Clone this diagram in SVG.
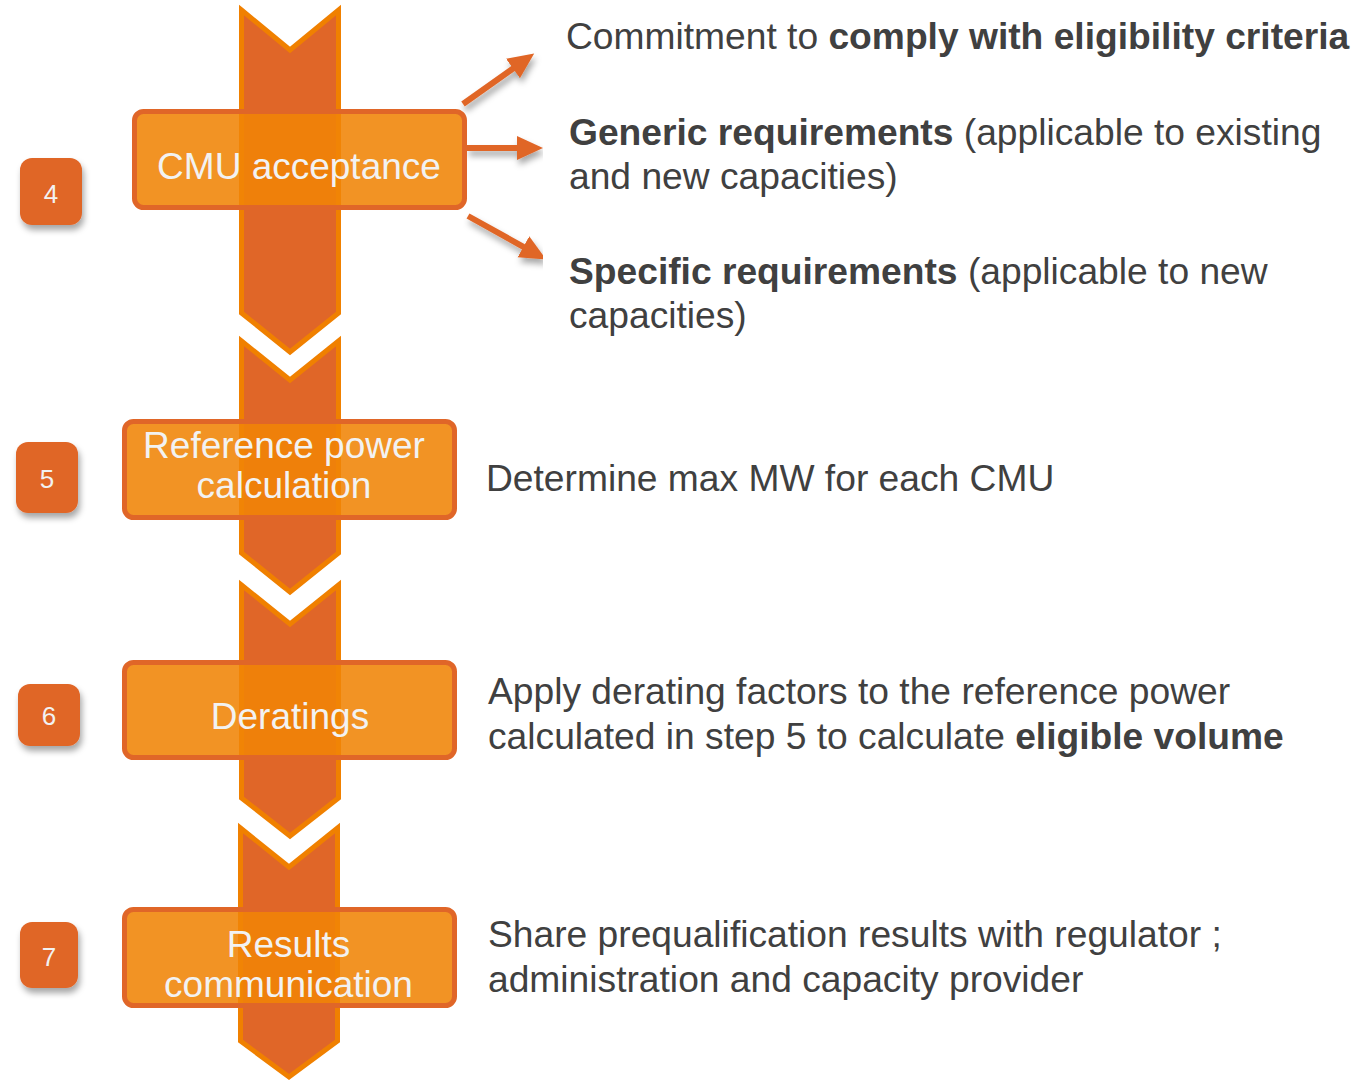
<svg xmlns="http://www.w3.org/2000/svg" width="1358" height="1081" viewBox="0 0 1358 1081">
<style>
.chev{fill:#E06628;stroke:#F08000;stroke-width:5;stroke-linejoin:miter}
.box{fill:#F08406;fill-opacity:0.88;stroke:#E06628;stroke-width:5}
.btxt{font-family:"Liberation Sans",Arial,sans-serif;font-size:37px;fill:#F2F2F2;text-anchor:middle}
.badge{fill:#E06628}
.ntxt{font-family:"Liberation Sans",Arial,sans-serif;font-size:26px;fill:#F2F2F2;text-anchor:middle}
.desc{font-family:"Liberation Sans",Arial,sans-serif;font-size:37.2px;fill:#404040}
.b{font-weight:bold}
.arr{stroke:#E06628;stroke-width:6;fill:none}
</style>
<defs>
<filter id="sh" x="-30%" y="-30%" width="160%" height="170%">
<feDropShadow dx="2" dy="5" stdDeviation="3" flood-color="#000" flood-opacity="0.35"/>
</filter>
<marker id="ah" markerUnits="userSpaceOnUse" markerWidth="28" markerHeight="26" refX="1" refY="12" orient="auto">
<path d="M0,0 L26,12 L0,24 Z" fill="#E06628"/>
</marker>
</defs>

<g id="chevrons">
<polygon class="chev" points="241.5,10 290,50 338.5,10 338.5,313 290,352 241.5,313"/>
<polygon class="chev" points="241.5,341 290,380 338.5,341 338.5,553 290,592 241.5,553"/>
<polygon class="chev" points="241.5,585 290,624 338.5,585 338.5,798 290,836 241.5,798"/>
<polygon class="chev" points="240.5,828 289,867 337.5,828 337.5,1041 289,1077 240.5,1041"/>
</g>

<g id="connectors" filter="url(#sh)">
<line class="arr" x1="463" y1="104" x2="513.8" y2="68" marker-end="url(#ah)"/>
<line class="arr" x1="467" y1="148" x2="518" y2="148" marker-end="url(#ah)"/>
<line class="arr" x1="468" y1="216" x2="524.3" y2="247.3" marker-end="url(#ah)"/>
</g>

<g id="step4">
<rect class="badge" x="20" y="158" width="62" height="67" rx="12" filter="url(#sh)"/>
<text class="ntxt" x="51" y="203">4</text>
</g>
<g id="cmu-acceptance">
<rect class="box" x="134.5" y="111.5" width="330" height="96" rx="9"/>
<text class="btxt" x="299" y="179">CMU acceptance</text>
</g>

<g id="step5">
<rect class="badge" x="16" y="442" width="62" height="71" rx="12" filter="url(#sh)"/>
<text class="ntxt" x="47" y="488">5</text>
</g>
<g id="reference-power">
<rect class="box" x="124.5" y="421.5" width="330" height="96" rx="9"/>
<text class="btxt" x="284" y="458">Reference power</text>
<text class="btxt" x="284" y="498">calculation</text>
</g>

<g id="step6">
<rect class="badge" x="18" y="684" width="62" height="62" rx="12" filter="url(#sh)"/>
<text class="ntxt" x="49" y="725">6</text>
</g>
<g id="deratings">
<rect class="box" x="124.5" y="662.5" width="330" height="95" rx="9"/>
<text class="btxt" x="290" y="729">Deratings</text>
</g>

<g id="step7">
<rect class="badge" x="20" y="922" width="58" height="66" rx="12" filter="url(#sh)"/>
<text class="ntxt" x="49" y="966">7</text>
</g>
<g id="results-communication">
<rect class="box" x="124.5" y="909.5" width="330" height="96" rx="9"/>
<text class="btxt" x="288.5" y="957">Results</text>
<text class="btxt" x="288.5" y="997">communication</text>
</g>

<g id="descriptions">
<text class="desc" x="566" y="49">Commitment to <tspan class="b">comply with eligibility criteria</tspan></text>
<text class="desc" x="569" y="145"><tspan class="b">Generic requirements</tspan> (applicable to existing</text>
<text class="desc" x="569" y="189">and new capacities)</text>
<text class="desc" x="569" y="284"><tspan class="b">Specific requirements</tspan> (applicable to new</text>
<text class="desc" x="569" y="328">capacities)</text>
<text class="desc" x="486" y="491">Determine max MW for each CMU</text>
<text class="desc" x="488" y="704">Apply derating factors to the reference power</text>
<text class="desc" x="488" y="749">calculated in step 5 to calculate <tspan class="b">eligible volume</tspan></text>
<text class="desc" x="488" y="947">Share prequalification results with regulator ;</text>
<text class="desc" x="488" y="992">administration and capacity provider</text>
</g>
</svg>
